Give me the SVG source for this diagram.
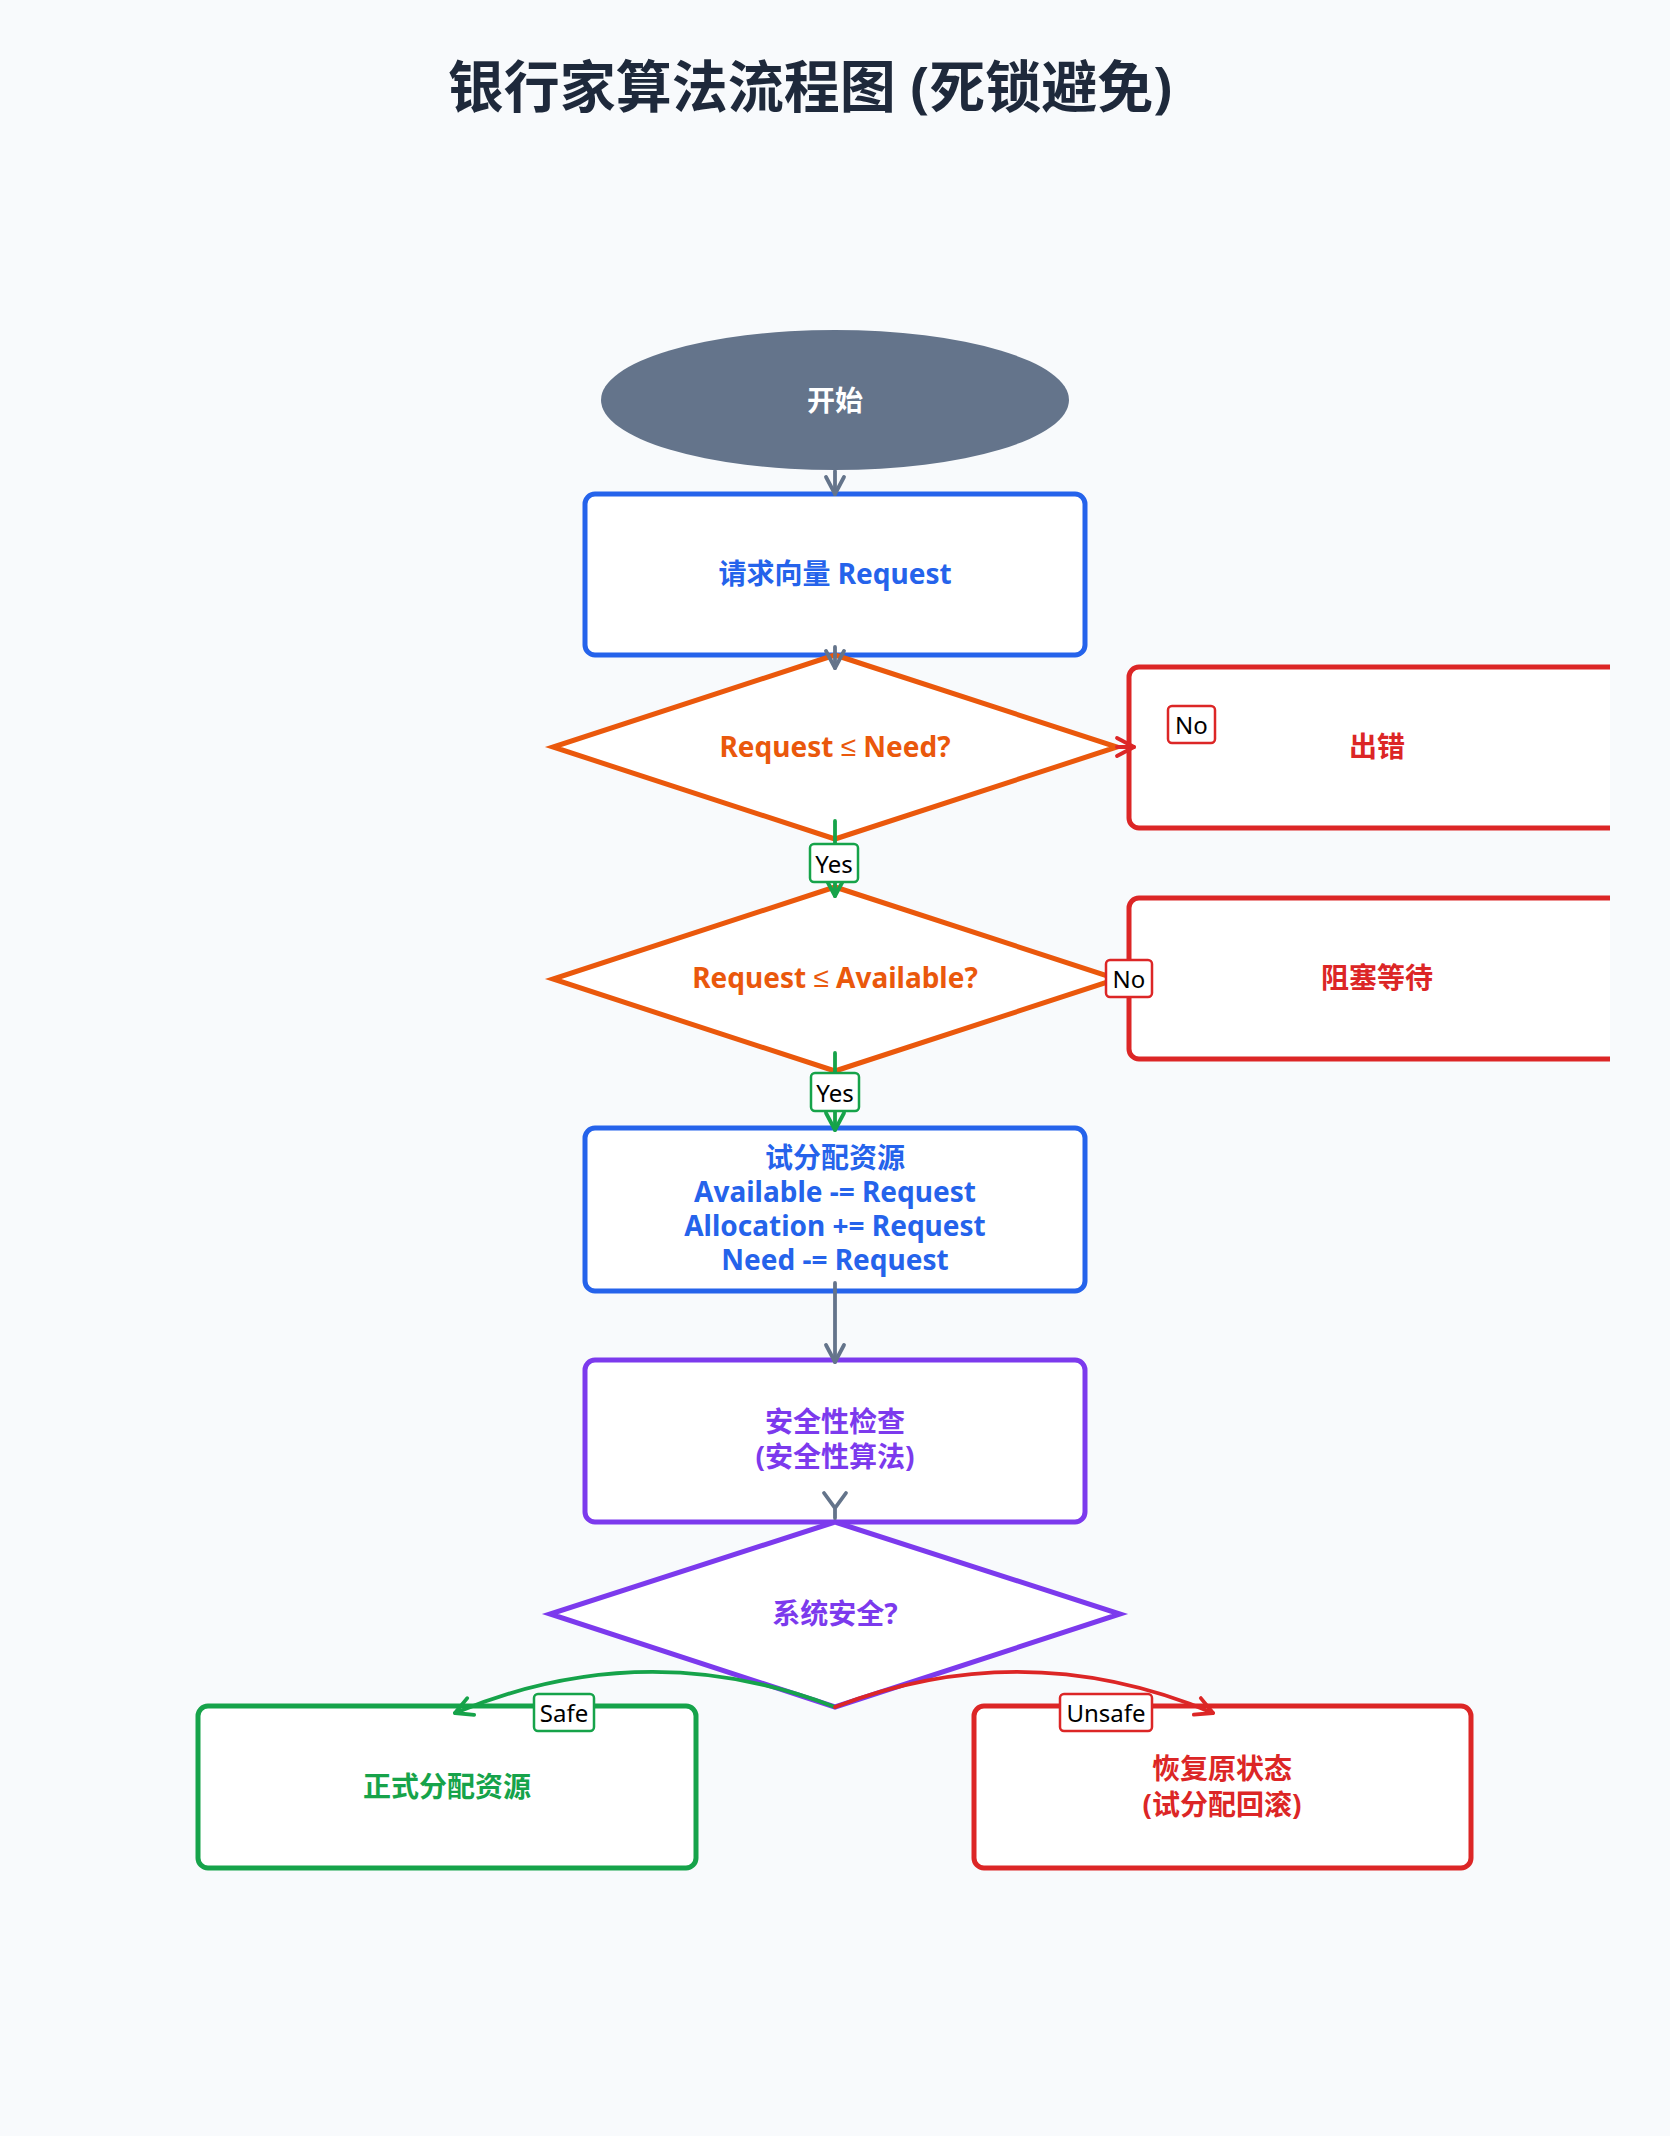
<svg xmlns="http://www.w3.org/2000/svg" width="1670" height="2136" viewBox="0 0 1670 2136">
  <style>
    .t { font-family: "Noto Sans", "Noto Sans CJK SC", sans-serif; font-weight: 700; font-size: 28px; text-anchor: middle; dominant-baseline: central; }
    .sym { font-family: "Liberation Sans", sans-serif; font-weight: 400; }
    .title { font-family: "Noto Sans", "Noto Sans CJK SC", sans-serif; font-weight: 700; font-size: 56px; text-anchor: middle; dominant-baseline: central; fill: #1e293b; }
    .lbl { font-family: "Noto Sans", "Noto Sans CJK SC", sans-serif; font-size: 24px; text-anchor: middle; dominant-baseline: central; fill: #000000; }
    .box { fill: #ffffff; stroke-width: 5; }
    .dia { fill: #ffffff; stroke-width: 5; stroke-linejoin: miter; }
    .lb { fill: #ffffff; stroke-width: 2.5; }
    .c { fill: none; stroke-width: 3.8; stroke-linecap: round; }
    .blue { stroke: #2563eb; }
    .orange { stroke: #ea580c; }
    .red { stroke: #dc2626; }
    .green { stroke: #16a34a; }
    .purple { stroke: #7c3aed; }
    .gray { stroke: #64748b; }
  </style>
  <defs>
    <clipPath id="page"><rect x="0" y="0" width="1610" height="2136"/></clipPath>
    <marker id="ag" viewBox="0 0 24 24" refX="21" refY="12" markerWidth="24" markerHeight="24" markerUnits="userSpaceOnUse" orient="auto">
      <path d="M4,3 L21,12 L4,21" fill="none" stroke="#64748b" stroke-width="3.8" stroke-linecap="round" stroke-linejoin="round"/>
    </marker>
    <marker id="agr" viewBox="0 0 24 24" refX="21" refY="12" markerWidth="24" markerHeight="24" markerUnits="userSpaceOnUse" orient="auto">
      <path d="M4,3 L21,12 L4,21" fill="none" stroke="#16a34a" stroke-width="3.8" stroke-linecap="round" stroke-linejoin="round"/>
    </marker>
    <marker id="ar" viewBox="0 0 24 24" refX="21" refY="12" markerWidth="24" markerHeight="24" markerUnits="userSpaceOnUse" orient="auto">
      <path d="M4,3 L21,12 L4,21" fill="none" stroke="#dc2626" stroke-width="3.8" stroke-linecap="round" stroke-linejoin="round"/>
    </marker>
  </defs>
  <rect x="0" y="0" width="1670" height="2136" fill="#f8fafc"/>
  <text class="title" x="810" y="85">银行家算法流程图 (死锁避免)</text>
  <g clip-path="url(#page)">
    <g id="start">
      <ellipse cx="835" cy="400" rx="234" ry="70" fill="#64748b"/>
      <text class="t" x="835" y="400" fill="#ffffff">开始</text>
    </g>
    <g id="request">
      <rect class="box blue" x="585" y="494" width="500" height="161" rx="10"/>
      <text class="t" x="835" y="573" fill="#2563eb">请求向量 Request</text>
    </g>
    <g id="check-need">
      <polygon class="dia orange" points="835,655 1117,747 835,839 553,747"/>
      <text class="t" x="835" y="746" fill="#ea580c">Request <tspan class="sym">≤</tspan> Need?</text>
    </g>
    <g id="error">
      <rect class="box red" x="1129" y="667" width="500" height="161" rx="10"/>
      <text class="t" x="1377" y="746" fill="#dc2626">出错</text>
    </g>
    <g id="check-available">
      <polygon class="dia orange" points="835,887 1117,979 835,1071 553,979"/>
      <text class="t" x="835" y="977" fill="#ea580c">Request <tspan class="sym">≤</tspan> Available?</text>
    </g>
    <g id="wait">
      <rect class="box red" x="1129" y="898" width="500" height="161" rx="10"/>
      <text class="t" x="1377" y="977" fill="#dc2626">阻塞等待</text>
    </g>
    <g id="trial">
      <rect class="box blue" x="585" y="1128" width="500" height="163" rx="10"/>
      <text class="t" x="835" y="1157" fill="#2563eb">试分配资源</text>
      <text class="t" x="835" y="1191" fill="#2563eb">Available -= Request</text>
      <text class="t" x="835" y="1225" fill="#2563eb">Allocation += Request</text>
      <text class="t" x="835" y="1259" fill="#2563eb">Need -= Request</text>
    </g>
    <g id="safety-check">
      <rect class="box purple" x="585" y="1360" width="500" height="162" rx="10"/>
      <text class="t" x="835" y="1421" fill="#7c3aed">安全性检查</text>
      <text class="t" x="835" y="1456" fill="#7c3aed">(安全性算法)</text>
    </g>
    <g id="is-safe">
      <polygon class="dia purple" points="835,1522 1120,1614 835,1707 550,1614"/>
      <text class="t" x="835" y="1613" fill="#7c3aed">系统安全?</text>
    </g>
    <g id="commit">
      <rect class="box green" x="198" y="1706" width="498" height="162" rx="10"/>
      <text class="t" x="447" y="1786" fill="#16a34a">正式分配资源</text>
    </g>
    <g id="rollback">
      <rect class="box red" x="974" y="1706" width="497" height="162" rx="10"/>
      <text class="t" x="1222" y="1768" fill="#dc2626">恢复原状态</text>
      <text class="t" x="1222" y="1804" fill="#dc2626">(试分配回滚)</text>
    </g>
    <g id="connectors">
      <path class="c gray" d="M835,471 L835,494" marker-end="url(#ag)"/>
      <path class="c gray" d="M835,647 L835,668" marker-end="url(#ag)"/>
      <path class="c red" d="M1117,747 L1134,747" marker-end="url(#ar)"/>
      <path class="c green" d="M835,821 L835,896" marker-end="url(#agr)"/>
      <path class="c red" d="M1117,979 L1132,979" marker-end="url(#ar)"/>
      <path class="c green" d="M835,1053 L835,1130" marker-end="url(#agr)"/>
      <path class="c gray" d="M835,1283 L835,1362" marker-end="url(#ag)"/>
      <path class="c gray" d="M824,1493 L835,1508 L846,1493 M835,1508 L835,1518"/>
      <path class="c green" d="M835,1707 Q645,1634 455,1713" marker-end="url(#agr)"/>
      <path class="c red" d="M835,1707 Q1025,1634 1213,1713" marker-end="url(#ar)"/>
      <g id="labels">
        <rect class="lb red" x="1168" y="706" width="47" height="37" rx="4"/>
        <text class="lbl" x="1191.5" y="724.5">No</text>
        <rect class="lb green" x="810" y="844" width="48" height="38" rx="4"/>
        <text class="lbl" x="834" y="863">Yes</text>
        <rect class="lb red" x="1106" y="960" width="46" height="37" rx="4"/>
        <text class="lbl" x="1129" y="978.5">No</text>
        <rect class="lb green" x="811" y="1073" width="48" height="38" rx="4"/>
        <text class="lbl" x="835" y="1092">Yes</text>
        <rect class="lb green" x="534" y="1694" width="60" height="37" rx="4"/>
        <text class="lbl" x="564" y="1712.5">Safe</text>
        <rect class="lb red" x="1060" y="1694" width="92" height="37" rx="4"/>
        <text class="lbl" x="1106" y="1712.5">Unsafe</text>
      </g>
    </g>
  </g>
</svg>
